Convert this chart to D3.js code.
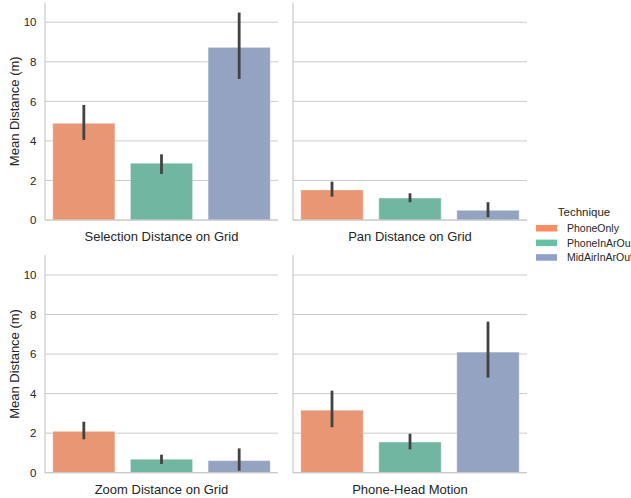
<!DOCTYPE html>
<html>
<head>
<meta charset="utf-8">
<script src="https://cdn.jsdelivr.net/npm/d3@7"></script>
<style>
  html, body { margin: 0; padding: 0; background: #ffffff; }
  svg { display: block; }
  text { font-family: "Liberation Sans", Arial, sans-serif; fill: #262626; }
</style>
</head>
<body>
<svg id="chart" width="631" height="498"></svg>
<script>
// Facet titles (shown under each panel) and the hue categories
const panels = ["Selection Distance on Grid", "Pan Distance on Grid", "Zoom Distance on Grid", "Phone-Head Motion"];
const techniques = ["PhoneOnly", "PhoneInArOut", "MidAirInArOut"];

// Mean distance per panel, one value per technique
const meanValues = [
  [4.89, 2.87, 8.73],
  [1.52, 1.11, 0.49],
  [2.09, 0.68, 0.61],
  [3.16, 1.55, 6.10]
];
// Confidence interval bounds per panel and technique
const ciLow = [
  [4.05, 2.33, 7.13],
  [1.18, 0.90, 0.14],
  [1.69, 0.44, 0.10],
  [2.30, 1.18, 4.81]
];
const ciHigh = [
  [5.82, 3.32, 10.49],
  [1.94, 1.35, 0.90],
  [2.58, 0.91, 1.23],
  [4.15, 1.97, 7.64]
];
const yTicks = [0, 2, 4, 6, 8, 10];
const yLabel = "Mean Distance (m)";
const legendTitle = "Technique";

const barColors = ["#e99675", "#71b6a1", "#95a3c3"];
const swatchColors = ["#fc8d62", "#66c2a5", "#8da0cb"];

const svg = d3.select("#chart");

// Panel frames: [left, right] in x, [top, bottom(zero line)] in y
const cols = [[45, 278], [293, 527]];
const rows = [[2.5, 220], [255.2, 472.7]];
const yMax = 11.0;

const color = d3.scaleOrdinal().domain(techniques).range(barColors);

panels.forEach((title, i) => {
  const c = cols[i % 2], r = rows[Math.floor(i / 2)];
  const x = d3.scaleBand().domain(techniques).range(c).paddingInner(0.2).paddingOuter(0.1);
  const y = d3.scaleLinear().domain([0, yMax]).range([r[1], r[0]]);
  const g = svg.append("g");

  // horizontal grid lines
  g.append("g").selectAll("line").data(yTicks).join("line")
    .attr("x1", c[0]).attr("x2", c[1])
    .attr("y1", d => y(d)).attr("y2", d => y(d))
    .attr("stroke", "#cccccc").attr("stroke-width", 1);

  // y axis: labels only on the left column
  const yAxis = d3.axisLeft(y).tickValues(yTicks).tickSize(0).tickPadding(8.5)
    .tickFormat(i % 2 === 0 ? d3.format("d") : () => "");
  const ya = g.append("g").attr("transform", `translate(${c[0]},0)`).call(yAxis);
  ya.select(".domain").remove();
  ya.selectAll("text").attr("font-size", 11.5).style("fill", "#262626")
    .attr("font-family", "Liberation Sans, Arial, sans-serif");

  // bars
  g.append("g").selectAll("rect").data(techniques).join("rect")
    .attr("x", d => x(d)).attr("width", x.bandwidth())
    .attr("y", (d, j) => y(meanValues[i][j]))
    .attr("height", (d, j) => y(0) - y(meanValues[i][j]))
    .attr("fill", d => color(d))
    .attr("stroke", "#ffffff").attr("stroke-opacity", 0.35).attr("stroke-width", 1);

  // error bars
  g.append("g").selectAll("line").data(techniques).join("line")
    .attr("x1", d => x(d) + x.bandwidth() / 2).attr("x2", d => x(d) + x.bandwidth() / 2)
    .attr("y1", (d, j) => y(ciLow[i][j])).attr("y2", (d, j) => y(ciHigh[i][j]))
    .attr("stroke", "#424242").attr("stroke-width", 2.8);

  // spines
  g.append("line").attr("x1", c[0]).attr("x2", c[0]).attr("y1", r[0]).attr("y2", r[1])
    .attr("stroke", "#cccccc").attr("stroke-width", 1.25);
  g.append("line").attr("x1", c[0]).attr("x2", c[1]).attr("y1", r[1]).attr("y2", r[1])
    .attr("stroke", "#cccccc").attr("stroke-width", 1.25);

  // panel label below the axis
  g.append("text").attr("x", (c[0] + c[1]) / 2).attr("y", r[1] + 21)
    .attr("text-anchor", "middle").attr("font-size", 13).text(title);

  // y axis title on the left column
  if (i % 2 === 0) {
    g.append("text")
      .attr("transform", `translate(18.5,${(r[0] + r[1]) / 2}) rotate(-90)`)
      .attr("text-anchor", "middle").attr("font-size", 13).text(yLabel);
  }
});

// legend
const lg = svg.append("g");
lg.append("text").attr("x", 584).attr("y", 216).attr("text-anchor", "middle")
  .attr("font-size", 11.5).text(legendTitle);
techniques.forEach((t, j) => {
  const yy = 228 + j * 14.6;
  lg.append("rect").attr("x", 536).attr("y", yy - 3).attr("width", 21).attr("height", 6.5)
    .attr("fill", swatchColors[j]);
  lg.append("text").attr("x", 567).attr("y", yy + 4).attr("font-size", 10.5).text(t);
});
</script>
</body>
</html>
